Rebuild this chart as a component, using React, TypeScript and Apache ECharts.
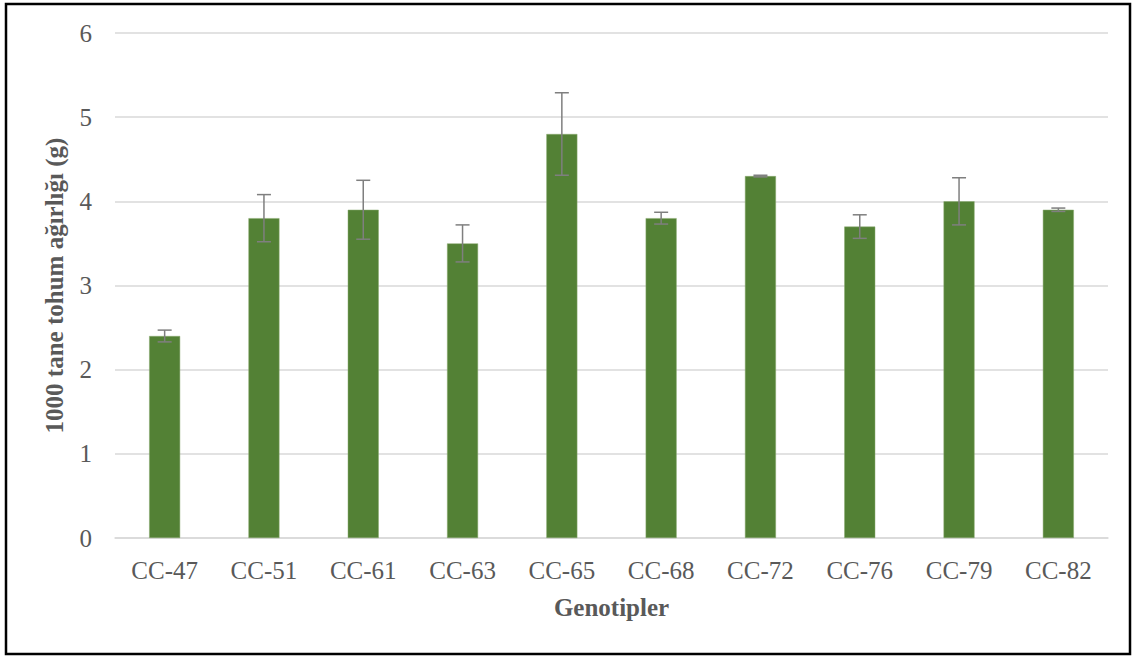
import React, { useEffect, useRef } from "react";
import * as echarts from "echarts";

const categories = ["CC-47", "CC-51", "CC-61", "CC-63", "CC-65", "CC-68", "CC-72", "CC-76", "CC-79", "CC-82"];
const values = [2.4, 3.8, 3.9, 3.5, 4.8, 3.8, 4.3, 3.7, 4.0, 3.9];
const errors = [0.07, 0.28, 0.35, 0.22, 0.49, 0.07, 0.01, 0.14, 0.28, 0.02];
const yTicks = [0, 1, 2, 3, 4, 5, 6];

export default function App() {
  const ref = useRef<HTMLDivElement>(null);
  useEffect(() => {
    if (!ref.current) return;
    const chart = echarts.init(ref.current, null, { renderer: "svg" });
    const errData = values.map((v, i) => [i, v - errors[i], v + errors[i]]);
    const font = "'Liberation Serif', 'Times New Roman', serif";
    chart.setOption({
      animation: false,
      backgroundColor: "#ffffff",
      textStyle: { fontFamily: font },
      grid: { left: 115, right: 24, top: 33, bottom: 118, containLabel: false },
      graphic: [
        {
          type: "rect",
          shape: { x: 6, y: 4, width: 1124, height: 650 },
          style: { fill: "none", stroke: "#000000", lineWidth: 2.5 },
          silent: true,
        },
      ],
      xAxis: {
        type: "category",
        data: categories,
        axisLine: { show: true, lineStyle: { color: "#d9d9d9", width: 1.5 } },
        axisTick: { show: false },
        axisLabel: { color: "#595959", fontSize: 25, fontFamily: font, margin: 20 },
        name: "Genotipler",
        nameLocation: "middle",
        nameGap: 57,
        nameTextStyle: { color: "#595959", fontSize: 25, fontWeight: "bold", fontFamily: font },
      },
      yAxis: {
        type: "value",
        min: 0,
        max: 6,
        interval: 1,
        axisLine: { show: false },
        axisTick: { show: false },
        axisLabel: {
          color: "#595959",
          fontSize: 25,
          fontFamily: font,
          margin: 23,
          formatter: (v: number) => (yTicks.includes(v) ? String(v) : ""),
        },
        splitLine: { lineStyle: { color: "#d9d9d9", width: 1.5 } },
        name: "1000 tane tohum ağırlığı (g)",
        nameLocation: "middle",
        nameGap: 48,
        nameRotate: 90,
        nameTextStyle: { color: "#595959", fontSize: 25, fontWeight: "bold", fontFamily: font },
      },
      series: [
        {
          type: "bar",
          data: values,
          barWidth: 31,
          itemStyle: { color: "#538135", borderColor: "#8aaa70", borderWidth: 0.5 },
        },
        {
          type: "custom",
          data: errData,
          z: 10,
          renderItem: (params: any, api: any) => {
            const x = api.value(0);
            const lo = api.coord([x, api.value(1)]);
            const hi = api.coord([x, api.value(2)]);
            const cap = 7;
            const style = { stroke: "#7f7f7f", lineWidth: 1.5 };
            return {
              type: "group",
              children: [
                { type: "line", shape: { x1: hi[0], y1: hi[1], x2: lo[0], y2: lo[1] }, style },
                { type: "line", shape: { x1: hi[0] - cap, y1: hi[1], x2: hi[0] + cap, y2: hi[1] }, style },
                { type: "line", shape: { x1: lo[0] - cap, y1: lo[1], x2: lo[0] + cap, y2: lo[1] }, style },
              ],
            };
          },
        },
      ],
    });
    return () => chart.dispose();
  }, []);
  return (
    <div
      ref={ref}
      style={{ position: "fixed", left: 0, top: 0, width: 1132, height: 656 }}
    />
  );
}
